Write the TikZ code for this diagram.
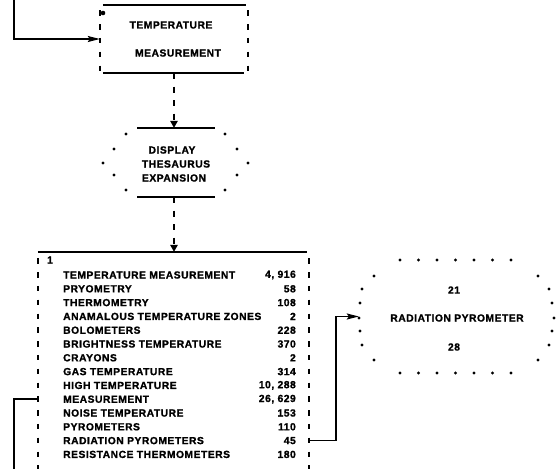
\documentclass[tikz,border=0pt]{standalone}
\usepackage{fontspec}
\newfontfamily\printfont{Liberation Sans Bold}[LetterSpace=5, FakeBold=1.2]
\usetikzlibrary{arrows.meta,calc}
\begin{document}
\begin{tikzpicture}[x=1pt,y=-1pt,
  txt/.style={font=\printfont\fontsize{10.3}{12}\selectfont, inner sep=0pt},
  solidedge/.style={line width=1.5pt},
  tickedge/.style={line width=1.5pt, dash pattern=on 5.5pt off 8.3pt},
  conn/.style={line width=1.5pt},
  dconn/.style={line width=1.5pt, dash pattern=on 6pt off 7.5pt},
  tri/.style={-{Triangle[width=7.5pt,length=7pt]}},
  harrow/.style={-{Stealth[length=12pt,width=6pt,inset=2pt]}},
  starpt/.style={fill=black},
  box/.style={inner sep=0pt, draw=none}]
\useasboundingbox (0,0) rectangle (557,469);

% ---- top box
\node[box, minimum width=148pt, minimum height=68pt] (tbox) at (174,39) {};
\node[txt] (t1) at (171,25) {TEMPERATURE};
\node[txt] (t2) at (178,53) {MEASUREMENT};
\draw[solidedge] ($(tbox.north west)+(3,0)$) -- ($(tbox.north east)+(-2,0)$);
\draw[solidedge] ($(tbox.south west)+(3,0)$) -- ($(tbox.south east)+(-4,0)$);
\draw[tickedge] ($(tbox.north west)+(0,5.5)$) -- ($(tbox.south west)+(0,-1)$);
\draw[tickedge] ($(tbox.north east)+(0,5.5)$) -- ($(tbox.south east)+(0,-1)$);
\fill (103,13) circle (2.3);

% ---- display hexagon
\node[box, minimum width=146pt, minimum height=69pt] (hex) at (175.5,162.5) {};
\draw[solidedge] ($(hex.north)+(-38.5,0)$) -- ($(hex.north)+(39.5,0)$);
\draw[solidedge] ($(hex.south)+(-38.5,0)$) -- ($(hex.south)+(39.5,0)$);
\foreach \dx/\yy in {49.5/134, 61.5/149, 72.5/163, 61.5/175, 49.5/190}{
  \fill[starpt] (175.5-\dx,\yy) circle (1.7);
  \fill[starpt] (175.5+\dx,\yy) circle (1.7);
}
\node[txt] (h1) at (172,150) {DISPLAY};
\node[txt] (h2) at (176,164) {THESAURUS};
\node[txt] (h3) at (174,178) {EXPANSION};

% ---- list box
\node[box, minimum width=271pt, minimum height=217pt] (list) at (173.5,360.5) {};
\draw[solidedge] (list.north west) -- ($(list.north east)+(-2,0)$);
\draw[tickedge] ($(list.north west)+(0,6.5)$) -- (list.south west);
\draw[tickedge] ($(list.north east)+(0,6.5)$) -- (list.south east);
\node[txt] (one) at (50,260) {1};
\foreach \name/\num [count=\i from 0] in {
  TEMPERATURE MEASUREMENT/{4, 916},
  PRYOMETRY/58,
  THERMOMETRY/108,
  ANAMALOUS TEMPERATURE ZONES/2,
  BOLOMETERS/228,
  BRIGHTNESS TEMPERATURE/370,
  CRAYONS/2,
  GAS TEMPERATURE/314,
  HIGH TEMPERATURE/{10, 288},
  MEASUREMENT/{26, 629},
  NOISE TEMPERATURE/153,
  PYROMETERS/110,
  RADIATION PYROMETERS/45,
  RESISTANCE THERMOMETERS/180}{
  \node[txt, anchor=west] (r\i) at (63,{275+13.8*\i}) {\name};
  \node[txt, anchor=east] (n\i) at (296,{275+13.8*\i}) {\num};
}

% ---- radiation pyrometer hexagon
\node[box, minimum width=196pt, minimum height=113pt] (rhex) at (457,316.5) {};
\foreach \k in {0,...,6}{
  \fill[starpt] ({400+18.5*\k},260) circle (1.7);
  \fill[starpt] ({400+18.5*\k},373) circle (1.7);
}
\foreach \xx/\yy in {374/276, 362/289, 360/303, 359/318, 360/331, 362/345, 374/360,
                     538/276, 549/289, 552/303, 554/318, 552/331, 549/345, 538/360}{
  \fill[starpt] (\xx,\yy) circle (1.7);
}
\node[txt] (p1) at (454,290) {21};
\node[txt] (p2) at (457,318) {RADIATION PYROMETER};
\node[txt] (p3) at (454,347) {28};

% ---- connectors
\coordinate (fbtop) at (14,0);
\coordinate (fbbot) at (14,469);
\draw[conn, harrow] (fbtop) |- (tbox.west);
\draw[dconn, tri] (tbox.south) -- (tbox.south |- hex.north);
\draw[dconn, tri] (tbox.south |- hex.south) -- (tbox.south |- list.north);
\draw[conn] (list.west |- n9) -| (fbbot);
\draw[conn, harrow] (list.east |- n12) -- ++(27,0) |- (rhex.west);
\end{tikzpicture}
\end{document}
